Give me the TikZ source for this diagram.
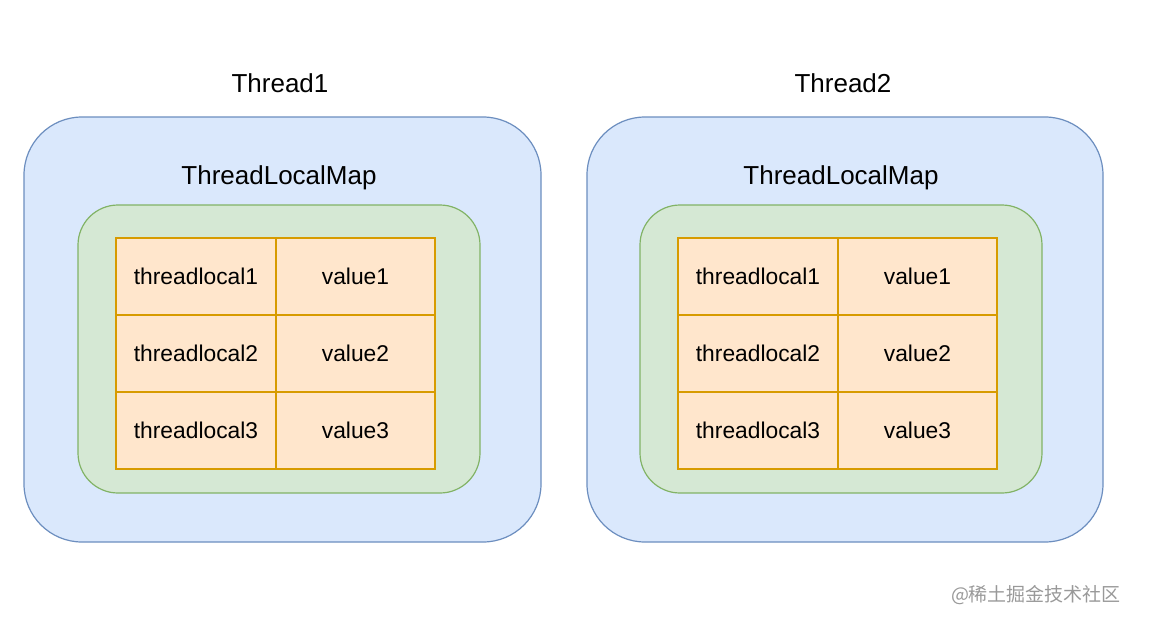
\documentclass[tikz,border=0pt]{standalone}
\usepackage{fontspec}
\setmainfont{Liberation Sans}
\newfontfamily\cjkfont{Noto Sans CJK SC}
\usetikzlibrary{positioning}

\definecolor{threadfill}{HTML}{DAE8FC}
\definecolor{threadline}{HTML}{6C8EBF}
\definecolor{mapfill}{HTML}{D5E8D4}
\definecolor{mapline}{HTML}{82B366}
\definecolor{cellfill}{HTML}{FFE6CC}
\definecolor{cellline}{HTML}{D79B00}

\begin{document}
\begin{tikzpicture}[x=1pt,y=-1pt,
  threadbox/.style={draw=threadline,fill=threadfill,line width=1.2pt,rounded corners=58pt,minimum width=517pt,minimum height=425pt},
  mapbox/.style={draw=mapline,fill=mapfill,line width=1.2pt,rounded corners=40pt,minimum width=402pt,minimum height=288pt},
  cell/.style={draw=cellline,fill=cellfill,line width=1.2pt,minimum width=160pt,minimum height=77pt,inner sep=0pt,outer sep=0pt,font=\fontsize{22.8}{26}\selectfont},
  title/.style={font=\fontsize{26}{30}\selectfont}]
\useasboundingbox (0,0) rectangle (1160,641);

% Thread1
\node[title] (thread1) at (280,83) {Thread1};
\node[threadbox] (box1) at (282.5,329.5) {};
\node[title] (maplabel1) at (279,178) {ThreadLocalMap};
\node[mapbox] (map1) at (279,349) {};
\node[cell,anchor=north west] (key11) at (116,238) {threadlocal1};
\node[cell,right=0pt of key11,minimum width=159pt] (val11) {value1};
\node[cell,below=0pt of key11] (key12) {threadlocal2};
\node[cell,right=0pt of key12,minimum width=159pt] (val12) {value2};
\node[cell,below=0pt of key12] (key13) {threadlocal3};
\node[cell,right=0pt of key13,minimum width=159pt] (val13) {value3};

% Thread2
\node[title] (thread2) at (843,83) {Thread2};
\node[threadbox,minimum width=516pt] (box2) at (845,329.5) {};
\node[title] (maplabel2) at (841,178) {ThreadLocalMap};
\node[mapbox] (map2) at (841,349) {};
\node[cell,anchor=north west] (key21) at (678,238) {threadlocal1};
\node[cell,right=0pt of key21,minimum width=159pt] (val21) {value1};
\node[cell,below=0pt of key21] (key22) {threadlocal2};
\node[cell,right=0pt of key22,minimum width=159pt] (val22) {value2};
\node[cell,below=0pt of key22] (key23) {threadlocal3};
\node[cell,right=0pt of key23,minimum width=159pt] (val23) {value3};

\node[text=black!40,font=\cjkfont\fontsize{19}{22}\selectfont] (mark) at (1036,595) {@稀土掘金技术社区};
\end{tikzpicture}
\end{document}
